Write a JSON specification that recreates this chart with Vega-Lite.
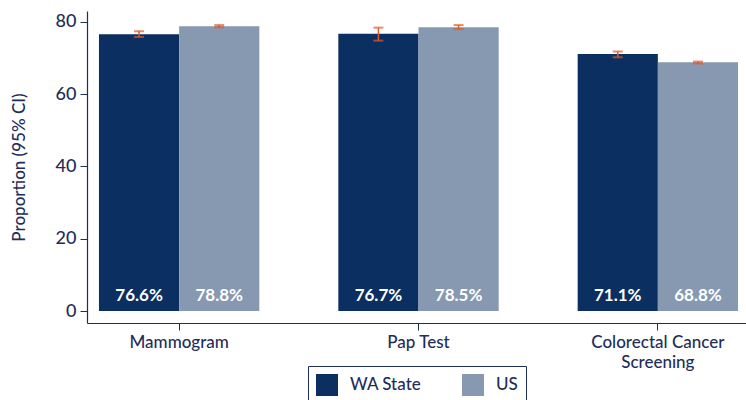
{
  "$schema": "https://vega.github.io/schema/vega-lite/v6.json",
  "width": 663,
  "height": 312,
  "autosize": "none",
  "padding": {"left": 87, "top": 11, "right": 0, "bottom": 77},
  "background": "white",
  "config": {
    "view": {"stroke": null},
    "font": "Lato",
    "axis": {"grid": false, "domainColor": "#1f2d5a", "tickColor": "#1f2d5a", "labelColor": "#1f2d5a", "titleColor": "#1f2d5a", "labelFont": "Lato", "titleFont": "Lato"}
  },
  "data": {
    "values": [
      {"screening": "Mammogram", "group": "WA State", "value": 76.6, "lo": 75.8, "hi": 77.4, "label": "76.6%"},
      {"screening": "Mammogram", "group": "US", "value": 78.8, "lo": 78.5, "hi": 79.1, "label": "78.8%"},
      {"screening": "Pap Test", "group": "WA State", "value": 76.7, "lo": 74.8, "hi": 78.4, "label": "76.7%"},
      {"screening": "Pap Test", "group": "US", "value": 78.5, "lo": 78.0, "hi": 79.1, "label": "78.5%"},
      {"screening": "Colorectal Cancer Screening", "group": "WA State", "value": 71.1, "lo": 70.2, "hi": 71.8, "label": "71.1%"},
      {"screening": "Colorectal Cancer Screening", "group": "US", "value": 68.8, "lo": 68.5, "hi": 69.0, "label": "68.8%"}
    ]
  },
  "encoding": {
    "x": {
      "field": "screening", "type": "nominal", "sort": null,
      "scale": {"paddingInner": 0.33, "paddingOuter": 0.05},
      "axis": {"title": null, "labelAngle": 0, "labelFontSize": 17, "labelFontWeight": 500, "tickSize": 7, "labelPadding": 4, "domainWidth": 1.2,
        "labelExpr": "datum.label == 'Colorectal Cancer Screening' ? ['Colorectal Cancer', 'Screening'] : datum.label", "labelLineHeight": 20}
    },
    "xOffset": {"field": "group", "type": "nominal", "sort": ["WA State", "US"], "scale": {"paddingInner": 0, "paddingOuter": 0}}
  },
  "layer": [
    {
      "mark": {"type": "bar"},
      "encoding": {
        "y": {"field": "value", "type": "quantitative", "scale": {"domain": [-3.3, 83], "nice": false, "zero": false},
          "axis": {"title": "Proportion (95% CI)", "titleFontSize": 17, "titleFontWeight": 500, "labelFontSize": 18, "labelFontWeight": 500, "values": [0, 20, 40, 60, 80], "tickSize": 7, "labelPadding": 4, "titlePadding": 27, "domainWidth": 1.2}},
        "y2": {"datum": 0},
        "color": {"field": "group", "type": "nominal", "sort": ["WA State", "US"],
          "scale": {"domain": ["WA State", "US"], "range": ["#0a2f60", "#8699b1"]},
          "legend": {"title": null, "orient": "none", "legendX": 221, "legendY": 355, "direction": "horizontal",
            "symbolType": "square", "symbolSize": 484, "symbolStrokeWidth": 0, "symbolOpacity": 1, "labelFontSize": 17, "labelFontWeight": 500, "labelColor": "#1f2d5a", "labelOffset": 12,
            "columnPadding": 40, "strokeColor": "#1f2d5a", "padding": 8, "labelFont": "Lato"}
        }
      }
    },
    {
      "mark": {"type": "rule", "color": "#e0592a", "strokeWidth": 1.5},
      "encoding": {"y": {"field": "lo", "type": "quantitative"}, "y2": {"field": "hi"}}
    },
    {
      "mark": {"type": "tick", "color": "#e0592a", "thickness": 2, "size": 10, "orient": "horizontal"},
      "encoding": {"y": {"field": "lo", "type": "quantitative"}}
    },
    {
      "mark": {"type": "tick", "color": "#e0592a", "thickness": 2, "size": 10, "orient": "horizontal"},
      "encoding": {"y": {"field": "hi", "type": "quantitative"}}
    },
    {
      "mark": {"type": "text", "color": "white", "fontSize": 17, "fontWeight": "bold", "baseline": "middle", "dy": -15, "font": "Lato"},
      "encoding": {"y": {"datum": 0, "type": "quantitative"}, "text": {"field": "label"}}
    }
  ]
}
